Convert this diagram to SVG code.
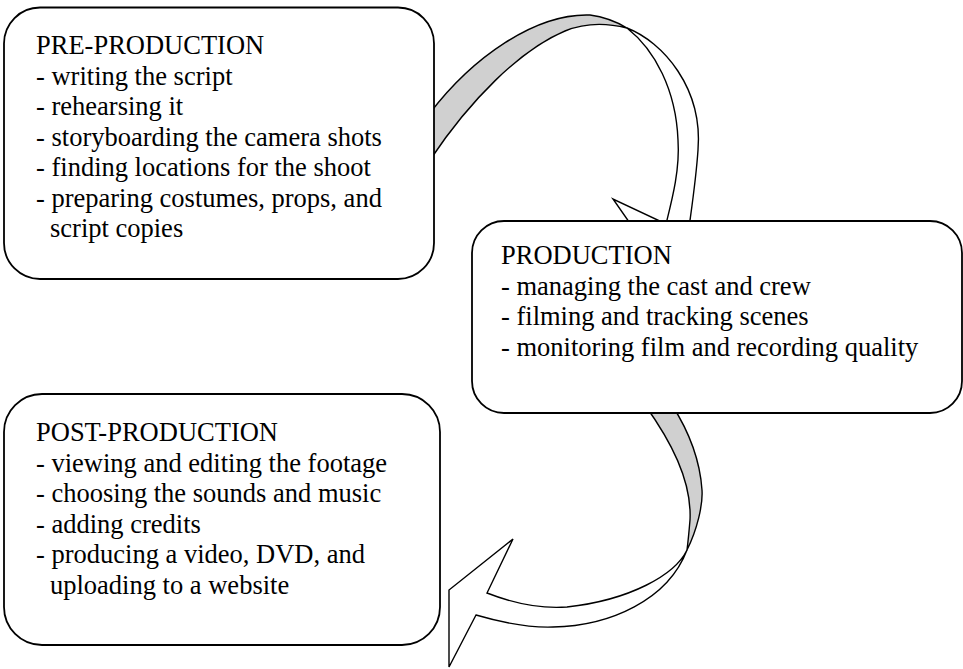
<svg xmlns="http://www.w3.org/2000/svg" width="963" height="669" viewBox="0 0 963 669">
<style>
  .box { fill: #ffffff; stroke: #000000; stroke-width: 1.8; }
  .lbl { font-family: "Liberation Serif", "Times New Roman", serif; font-size: 26.5px; fill: #000000; }
  .back { fill: #d0d0d0; stroke: #000000; stroke-width: 1.4; stroke-linejoin: round; }
  .front { fill: #ffffff; stroke: #000000; stroke-width: 1.4; stroke-linejoin: miter; }
</style>
<rect width="963" height="669" fill="#ffffff"/>
<g id="connectors">
  <g id="arrow-pre-to-prod">
    <path class="back" d="M430,113 C472,58 535,13 590,15 C605,17 617,22 627,28 C603,22 582,24 565,31 C520,50 470,100 430,160 Z"/>
    <path class="front" d="M627,28 C663,42 703,88 698,150 C696,180 692,205 688,235 L720,242 L650,252 L613,199 L666,224 C672,200 680,170 678,140 C676,90 655,50 627,28 Z"/>
  </g>
  <g id="arrow-prod-to-post">
    <path class="back" d="M645,405 C670,440 692,480 690,520 C689,532 688,542 687,550 C697,530 703,505 702,490 C700,460 688,430 672,405 Z"/>
    <path class="front" d="M687,550 C675,575 630,600 567,607 C540,609 510,602 487,593 L513,539 L449,590 L449,667 L476,615 C500,622 525,628 553,627 C610,626 668,600 687,550 Z"/>
  </g>
</g>
<g id="node-pre-production">
  <rect class="box" x="4" y="7.5" width="430" height="271.5" rx="36" ry="36"/>
  <text class="lbl" x="36" y="54">PRE-PRODUCTION</text>
  <text class="lbl" x="36" y="84.5">- writing the script</text>
  <text class="lbl" x="36" y="115">- rehearsing it</text>
  <text class="lbl" x="36" y="145.5">- storyboarding the camera shots</text>
  <text class="lbl" x="36" y="176">- finding locations for the shoot</text>
  <text class="lbl" x="36" y="206.5">- preparing costumes, props, and</text>
  <text class="lbl" x="50" y="237">script copies</text>
</g>
<g id="node-production">
  <rect class="box" x="472" y="221" width="490" height="192" rx="32" ry="32"/>
  <text class="lbl" x="501" y="264">PRODUCTION</text>
  <text class="lbl" x="501" y="294.5">- managing the cast and crew</text>
  <text class="lbl" x="501" y="325">- filming and tracking scenes</text>
  <text class="lbl" x="501" y="355.5">- monitoring film and recording quality</text>
</g>
<g id="node-post-production">
  <rect class="box" x="4" y="394" width="436" height="251" rx="38" ry="38"/>
  <text class="lbl" x="36" y="441">POST-PRODUCTION</text>
  <text class="lbl" x="36" y="471.5">- viewing and editing the footage</text>
  <text class="lbl" x="36" y="502">- choosing the sounds and music</text>
  <text class="lbl" x="36" y="532.5">- adding credits</text>
  <text class="lbl" x="36" y="563">- producing a video, DVD, and</text>
  <text class="lbl" x="50" y="593.5">uploading to a website</text>
</g>
</svg>
